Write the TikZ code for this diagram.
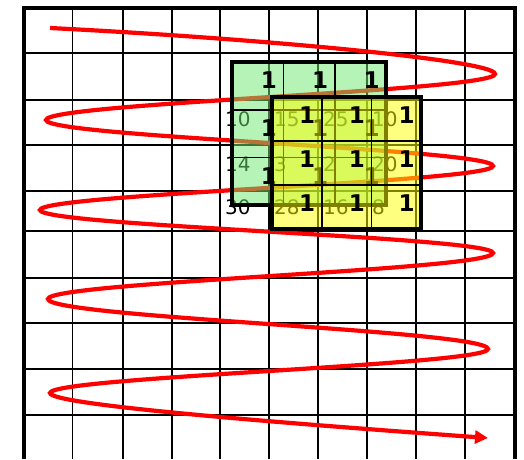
\documentclass[tikz,border=0pt]{standalone}
\usepackage{fontspec}
\setmainfont{DejaVu Sans}
\usetikzlibrary{arrows.meta}
\definecolor{kerGreen}{RGB}{110,232,110}
\definecolor{kerYellow}{RGB}{255,255,0}
\tikzset{
    % Lines
    gridline/.style={line width=1.8pt},
    frameline/.style={line width=4pt, line join=miter},
    kerline/.style={line width=1.6pt},
    kerbox/.style={line width=4.2pt, line join=miter},
    scan/.style={red, line width=4.2pt, -{Triangle[length=13pt, width=13pt]}},
    % Labels
    val/.style={anchor=west, inner sep=0pt, font=\fontsize{20}{20}\selectfont},
    one/.style={anchor=east, inner sep=0pt, font=\fontsize{23}{23}\selectfont\bfseries}
}

\begin{document}
\begin{tikzpicture}[x=1pt, y=-1pt]
\useasboundingbox (0,0) rectangle (524,459);

% input grid
\foreach \x in {72.5,123,172,220,269,318,367,416,465}
    \draw[gridline] (\x,8) -- (\x,459);
\foreach \y in {53.3,100,145,190.7,231.3,277.7,323.3,369.3,415}
    \draw[gridline] (24,\y) -- (514.5,\y);
\draw[frameline] (24,459) -- (24,8) -- (514.5,8) -- (514.5,459);

% pixel values
\foreach \v [count=\c] in {10,15,25,10}
    \node[val] (a\c) at ({225+49*(\c-1)},119) {\v};
\foreach \v [count=\c] in {14,3,2,20}
    \node[val] (b\c) at ({225+49*(\c-1)},164.5) {\v};
\foreach \v [count=\c] in {30,28,16,8}
    \node[val] (d\c) at ({225+49*(\c-1)},207.5) {\v};

% scan order
\coordinate (s) at (50,28);
\coordinate (r1) at (495,74);
\coordinate (l1) at (46,120);
\coordinate (r2) at (493,166);
\coordinate (l2) at (40,210);
\coordinate (r3) at (493,253);
\coordinate (l3) at (48,299);
\coordinate (r4) at (488,349);
\coordinate (l4) at (50,393);
\coordinate (e) at (488,438);
\draw[scan] (s) .. controls +(200,10) and +(0,-14) .. (r1)
    .. controls +(0,17) and +(0,-17) .. (l1)
    .. controls +(0,17) and +(0,-17) .. (r2)
    .. controls +(0,16) and +(0,-16) .. (l2)
    .. controls +(0,16) and +(0,-16) .. (r3)
    .. controls +(0,17) and +(0,-17) .. (l3)
    .. controls +(0,18.5) and +(0,-18.5) .. (r4)
    .. controls +(0,16) and +(0,-16) .. (l4)
    .. controls +(0,12) and +(-200,-14.6) .. (e);

% kernel, first position
\fill[kerGreen, fill opacity=0.5] (232,62) rectangle (386,205);
\foreach \x in {283.3,334.7}
    \draw[kerline] (\x,62) -- (\x,205);
\foreach \y in {109.7,157.3}
    \draw[kerline] (232,\y) -- (386,\y);
\draw[kerbox] (232,62) rectangle (386,205);
\foreach \x [count=\c] in {277,328.4,379.7}
    \foreach \y [count=\r] in {80.3,128,175.7}
        \node[one] (g\r\c) at (\x,\y) {1};

% kernel, next position
\fill[kerYellow, fill opacity=0.5] (272,97) rectangle (421,229);
\foreach \x in {321.7,371.3}
    \draw[kerline] (\x,97) -- (\x,229);
\foreach \y in {141,185}
    \draw[kerline] (272,\y) -- (421,\y);
\draw[kerbox] (272,97) rectangle (421,229);
\foreach \x [count=\c] in {315.4,365,414.7}
    \foreach \y [count=\r] in {115,159,203}
        \node[one] (y\r\c) at (\x,\y) {1};

\end{tikzpicture}
\end{document}
